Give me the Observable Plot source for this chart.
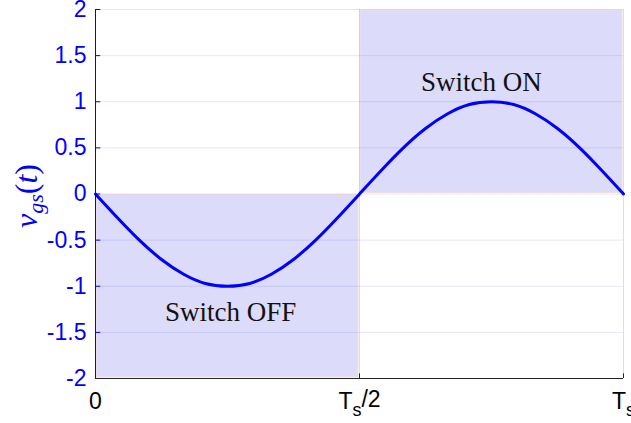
<!DOCTYPE html>
<html><head><meta charset="utf-8">
<script src="https://cdn.jsdelivr.net/npm/d3@7"></script>
<script src="https://cdn.jsdelivr.net/npm/@observablehq/plot@0.6"></script>
<style>
body{margin:0;background:#fff} svg{display:block}
</style>
</head><body><div id="chart"></div>
<script>
// time in units of Ts
const tPoints = [0, 0.042, 0.083, 0.125, 0.167, 0.208, 0.25, 0.292, 0.333, 0.375, 0.417, 0.458, 0.5,
                 0.542, 0.583, 0.625, 0.667, 0.708, 0.75, 0.792, 0.833, 0.875, 0.917, 0.958, 1];
const vgs = [0, -0.26, -0.5, -0.71, -0.87, -0.97, -1, -0.97, -0.87, -0.71, -0.5, -0.26, 0,
             0.26, 0.5, 0.71, 0.87, 0.97, 1, 0.97, 0.87, 0.71, 0.5, 0.26, 0];
const yTicks = [-2, -1.5, -1, -0.5, 0, 0.5, 1, 1.5, 2];
const xTicks = [0, 0.5, 1];
const xTickLabels = ["0", "Ts/2", "Ts"];
const regionX1 = [0, 0.5];
const regionX2 = [0.5, 1];
const regionY1 = [-2, 0];
const regionY2 = [0, 2];
const regionLabels = ["Switch OFF", "Switch ON"];
const labelX = [0.256, 0.731];
const labelY = [-1.28, 1.21];

const curve = tPoints.map((t, i) => ({t, v: vgs[i]}));
const regions = regionLabels.map((name, i) => ({name, x1: regionX1[i], x2: regionX2[i], y1: regionY1[i], y2: regionY2[i], lx: labelX[i], ly: labelY[i]}));

const tickFont = "Liberation Sans, Arial, sans-serif";
const plot = Plot.plot({
  width: 631, height: 423,
  marginLeft: 95, marginRight: 8, marginTop: 9, marginBottom: 45,
  style: {fontFamily: tickFont, background: "#fff"},
  x: {domain: [0, 1]},
  y: {domain: [-2, 2]},
  marks: [
    Plot.rect(regions, {x1: "x1", x2: "x2", y1: "y1", y2: "y2", fill: "#dcdcfa", stroke: "#f2dede", strokeWidth: 1, inset: 1}),
    Plot.gridY(yTicks, {stroke: "blue", strokeOpacity: 0.1, strokeWidth: 1}),
    Plot.gridX(xTicks, {stroke: "#000", strokeOpacity: 0.13, strokeWidth: 1}),
    Plot.line(curve, {x: "t", y: "v", stroke: "#0000ff", strokeWidth: 3, curve: "natural"}),
    Plot.text(regions, {x: "lx", y: "ly", text: "name", fontFamily: "Liberation Serif, Times New Roman, serif", fontSize: 27, fill: "#111", textAnchor: "middle", lineAnchor: "middle"}),
    Plot.ruleY(yTicks, {x1: 0, x2: 0.01, stroke: "blue", strokeWidth: 1}),
    Plot.ruleX(xTicks, {y1: -2, y2: -1.95, stroke: "#262626", strokeWidth: 1}),
    Plot.ruleX([0], {stroke: "blue", strokeWidth: 1}),
    Plot.ruleY([-2], {stroke: "#262626", strokeWidth: 1}),
    Plot.text(yTicks, {x: 0, y: d => d, text: d => String(d), textAnchor: "end", dx: -9, fill: "blue", fontSize: 23, fontFamily: tickFont}),
    Plot.text(xTicks, {x: d => d, y: -2, text: (d, i) => xTickLabels[i], lineAnchor: "middle", dy: 23, fill: "#000", fontSize: 23, fontFamily: tickFont})
  ],
  axis: null
});

const svg = d3.select(plot);
svg.style("overflow", "visible");
// subscripts on x tick labels
svg.selectAll("text").filter(function() { return this.textContent === "Ts" || this.textContent === "Ts/2"; }).each(function() {
  const s = this.textContent;
  const sel = d3.select(this);
  const rest = s.slice(2);
  sel.text(null);
  sel.append("tspan").text("T");
  sel.append("tspan").attr("font-size", 18).attr("dy", "0.4em").text("s");
  if (rest) sel.append("tspan").attr("dy", "-0.4em").text(rest);
});
// y label v_gs(t)
const lab = svg.append("text")
  .attr("transform", "translate(37,196) rotate(-90)")
  .attr("text-anchor", "middle")
  .attr("fill", "blue")
  .attr("font-family", "Liberation Serif, Times New Roman, serif")
  .attr("font-size", 32);
lab.append("tspan").attr("font-style", "italic").text("v");
lab.append("tspan").attr("font-style", "italic").attr("font-size", 22).attr("dy", 6).text("gs");
lab.append("tspan").attr("dy", -6).text("(");
lab.append("tspan").attr("font-style", "italic").text("t");
lab.append("tspan").text(")");

document.getElementById("chart").appendChild(plot);
</script>
</body></html>
